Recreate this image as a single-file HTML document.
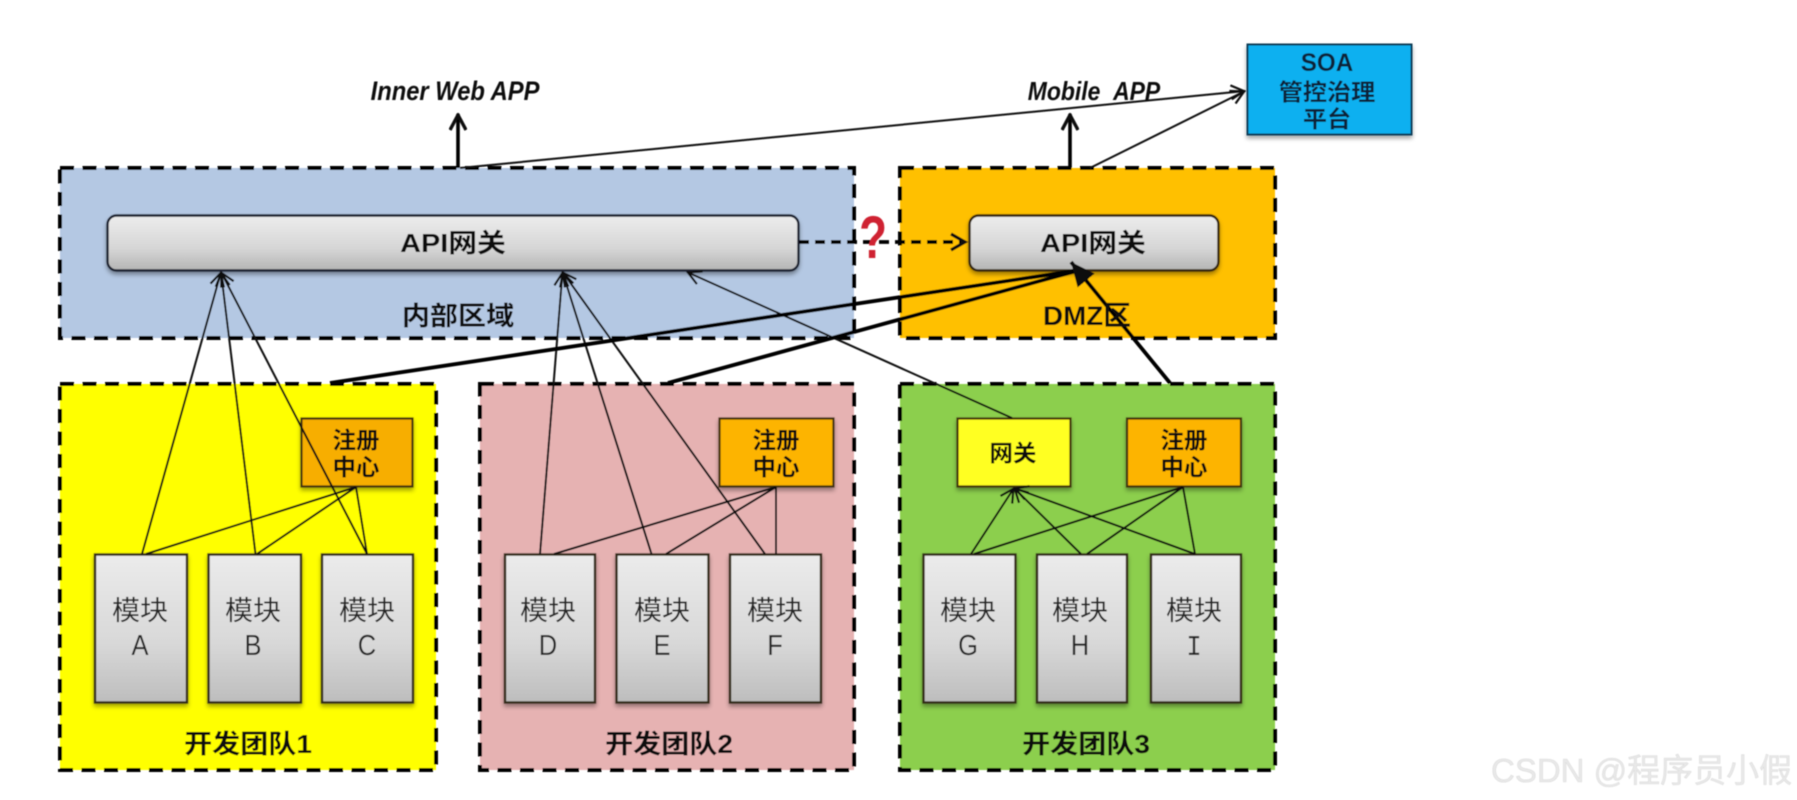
<!DOCTYPE html>
<html><head><meta charset="utf-8">
<style>
html,body{margin:0;padding:0;background:#fff;width:1797px;height:800px;overflow:hidden}
svg{display:block}
text{font-family:"Liberation Sans","Noto Sans CJK SC",sans-serif;text-anchor:middle;fill:#0e0e0e}
.b{font-weight:700}
.m{fill:#262626;font-weight:400;font-size:26px}
.n{fill:#262626;font-weight:400;font-size:29px}
</style></head><body>
<svg width="1797" height="800" viewBox="0 0 1797 800" xmlns="http://www.w3.org/2000/svg">
<defs>
<linearGradient id="g" x1="0" y1="0" x2="0" y2="1"><stop offset="0" stop-color="#ececec"/><stop offset=".6" stop-color="#d6d6d6"/><stop offset="1" stop-color="#b4b4b4"/></linearGradient>
<linearGradient id="gw" x1="0" y1="0" x2="0" y2="1"><stop offset="0" stop-color="#ebebeb"/><stop offset=".6" stop-color="#d8d8d8"/><stop offset="1" stop-color="#bdbdbd"/></linearGradient>
<filter id="s" x="-10%" y="-10%" width="120%" height="125%"><feDropShadow dx="0" dy="3" stdDeviation="2" flood-color="#000" flood-opacity=".35"/></filter>
<filter id="bl" x="-2%" y="-2%" width="104%" height="104%"><feGaussianBlur stdDeviation=".65"/></filter>
<marker id="a" viewBox="0 0 16 16" refX="15" refY="8" markerWidth="16" markerHeight="16" markerUnits="userSpaceOnUse" orient="auto"><path d="M1 1L14 8L1 15" fill="none" stroke="#0c0c0c" stroke-width="2.2"/></marker>
<marker id="a2" viewBox="0 0 18 18" refX="17" refY="9" markerWidth="18" markerHeight="18" markerUnits="userSpaceOnUse" orient="auto"><path d="M1 1L16 9L1 17" fill="none" stroke="#0c0c0c" stroke-width="3.4"/></marker>
<marker id="a3" viewBox="0 0 26 22" refX="24" refY="11" markerWidth="26" markerHeight="22" markerUnits="userSpaceOnUse" orient="auto"><path d="M0 0L24 11L0 22Z" fill="#0c0c0c"/></marker>
</defs>
<g filter="url(#bl)">
<!-- regions -->
<g stroke="#060606" stroke-width="4" stroke-dasharray="14 8.5">
<rect x="60" y="168" width="794" height="170" fill="#b4c8e3"/>
<rect x="900" y="168" width="375" height="170" fill="#ffc000"/>
<rect x="60" y="384" width="376" height="386" fill="#ffff00"/>
<rect x="480" y="384" width="374" height="386" fill="#e6b2b2"/>
<rect x="900" y="384" width="375" height="386" fill="#8ccf4d"/>
</g>
<!-- gateways -->
<rect x="107.500" y="215.500" width="691" height="55" rx="9" fill="url(#g)" stroke="#1c2433" stroke-width="2.4" filter="url(#s)"/>
<rect x="969.500" y="215.500" width="249" height="55" rx="9" fill="url(#g)" stroke="#35260c" stroke-width="2.4" filter="url(#s)"/>
<rect x="1247.500" y="44.500" width="164" height="90" fill="#0cb0f0" stroke="#0d3a55" stroke-width="2" filter="url(#s)"/>
<!-- registries -->
<g stroke="#40300c" stroke-width="2.2" filter="url(#s)">
<rect x="301.500" y="418.500" width="111" height="68" fill="#f7ae00"/>
<rect x="719.500" y="418.500" width="114" height="68" fill="#fdb400"/>
<rect x="1127" y="418.500" width="114" height="68" fill="#fdb400"/>
<rect x="957.500" y="418.500" width="113" height="68" fill="#ffff20"/>
</g>
<!-- modules -->
<g fill="url(#gw)" stroke="#332a18" stroke-width="2.4" filter="url(#s)">
<rect x="95" y="554.500" width="92" height="148"/>
<rect x="208.500" y="554.500" width="92.500" height="148"/>
<rect x="322" y="554.500" width="91" height="148"/>
<rect x="505" y="554.500" width="90" height="148"/>
<rect x="616.500" y="554.500" width="92" height="148"/>
<rect x="730" y="554.500" width="91" height="148"/>
<rect x="923.500" y="554.500" width="92" height="148"/>
<rect x="1037" y="554.500" width="90" height="148"/>
<rect x="1151" y="554.500" width="90" height="148"/>
</g>
<!-- thin connectors -->
<g fill="none" stroke="#0e0e0e" stroke-width="2">
<path d="M142 554L221 272" marker-end="url(#a)"/>
<path d="M255.500 554L221 272" marker-end="url(#a)"/>
<path d="M367 554L221 272" marker-end="url(#a)"/>
<path d="M540 554L562.500 272" marker-end="url(#a)"/>
<path d="M651.500 554L562.500 272" marker-end="url(#a)"/>
<path d="M765 554L562.500 272" marker-end="url(#a)"/>
<path d="M1012 418L687 272" marker-end="url(#a)"/>
<path d="M971 554L1014 488" marker-end="url(#a)"/>
<path d="M1081 554L1014 488" marker-end="url(#a)"/>
<path d="M1195 554L1014 488" marker-end="url(#a)"/>
<path d="M146 554L356 487M257 554L356 487M367 554L356 487"/>
<path d="M554 554L776 487M666 554L776 487M776 554L776 487"/>
<path d="M974 554L1183 487M1087 554L1183 487M1195 554L1183 487"/>
<path d="M460 168L1245 91" marker-end="url(#a)"/>
<path d="M1090 168L1245 91" marker-end="url(#a)"/>
</g>
<!-- thick up arrows -->
<g fill="none" stroke="#060606" stroke-width="3.6">
<path d="M458 168V114" marker-end="url(#a2)"/>
<path d="M1070 168V114" marker-end="url(#a2)"/>
</g>
<!-- thick to DMZ -->
<g fill="none" stroke="#060606" stroke-width="3.8">
<path d="M330 383L1080 270"/>
<path d="M668 383L1080 270"/>
<path d="M1170 383L1071 262" marker-end="url(#a3)"/>
</g>
<!-- dashed -->
<path d="M799 242H964" fill="none" stroke="#060606" stroke-width="3.8" stroke-dasharray="10 6"/>
<path d="M951 234L965 242L951 250" fill="none" stroke="#0c0c0c" stroke-width="3.2"/>
<!-- text -->
<text class="b" font-size="60" style="fill:#cf2233" transform="translate(873,258) scale(.76,1)">?</text>
<text class="b" font-size="25" font-style="italic" transform="translate(455,100) scale(.95,1.08)">Inner Web APP</text>
<text class="b" font-size="24" font-style="italic" transform="translate(1094,100) scale(.955,1.08)">Mobile&#160;&#160;APP</text>
<text class="b" font-size="26" transform="translate(453,252) scale(1.11,1)">API网关</text>
<text class="b" font-size="26" transform="translate(1093,252) scale(1.11,1)">API网关</text>
<text class="b" font-size="26" transform="translate(458,325) scale(1.08,1)">内部区域</text>
<text class="b" font-size="27" transform="translate(1087,325) scale(1.03,1)">DMZ区</text>
<text class="b" font-size="25" style="fill:#0a2238" transform="translate(1327,71) scale(.97,1)">SOA</text>
<text class="b" font-size="23" style="fill:#0a2238" transform="translate(1327,100) scale(1.05,1)">管控治理</text>
<text class="b" font-size="23" style="fill:#0a2238" transform="translate(1327,127) scale(1.05,1)">平台</text>
<g font-size="23">
<text class="b" transform="translate(356,448) scale(1.02,1)">注册</text>
<text class="b" transform="translate(356,475) scale(1.02,1)">中心</text>
<text class="b" transform="translate(776,448) scale(1.02,1)">注册</text>
<text class="b" transform="translate(776,475) scale(1.02,1)">中心</text>
<text class="b" transform="translate(1184,448) scale(1.02,1)">注册</text>
<text class="b" transform="translate(1184,475) scale(1.02,1)">中心</text>
<text class="b" transform="translate(1013,461) scale(1.02,1)">网关</text>
</g>
<text class="b" font-size="26" transform="translate(248,753) scale(1.08,1)">开发团队1</text>
<text class="b" font-size="26" transform="translate(669,753) scale(1.08,1)">开发团队2</text>
<text class="b" font-size="26" transform="translate(1086,753) scale(1.08,1)">开发团队3</text>
<g>
<text class="m" transform="translate(140,620) scale(1.08,1.04)">模块</text><text class="n" transform="translate(140,655) scale(.88,1)">A</text>
<text class="m" transform="translate(253,620) scale(1.08,1.04)">模块</text><text class="n" transform="translate(253,655) scale(.88,1)">B</text>
<text class="m" transform="translate(367,620) scale(1.08,1.04)">模块</text><text class="n" transform="translate(367,655) scale(.88,1)">C</text>
<text class="m" transform="translate(548,620) scale(1.08,1.04)">模块</text><text class="n" transform="translate(548,655) scale(.88,1)">D</text>
<text class="m" transform="translate(662,620) scale(1.08,1.04)">模块</text><text class="n" transform="translate(662,655) scale(.88,1)">E</text>
<text class="m" transform="translate(775,620) scale(1.08,1.04)">模块</text><text class="n" transform="translate(775,655) scale(.88,1)">F</text>
<text class="m" transform="translate(968,620) scale(1.08,1.04)">模块</text><text class="n" transform="translate(968,655) scale(.88,1)">G</text>
<text class="m" transform="translate(1080,620) scale(1.08,1.04)">模块</text><text class="n" transform="translate(1080,655) scale(.88,1)">H</text>
<text class="m" transform="translate(1194,620) scale(1.08,1.04)">模块</text><text class="n" style="font-family:'Liberation Mono',monospace" transform="translate(1194,655) scale(.88,1)">I</text>
</g>
<text x="1491" y="782" font-size="33" style="text-anchor:start;fill:#e8e8e8;stroke:#cfcfcf;stroke-width:.3">CSDN @程序员小假</text>
</g>
</svg>
</body></html>
